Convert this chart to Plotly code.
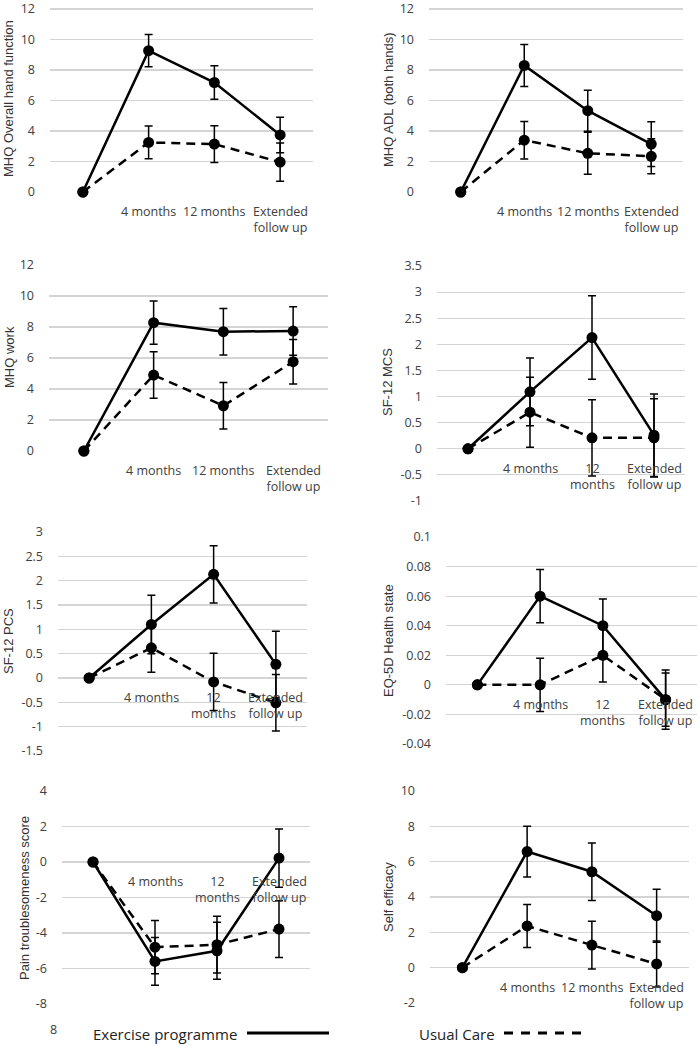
import plotly.graph_objects as go

W, H = 700, 1046
categories = ["Baseline", "4 months", "12 months", "Extended follow up"]
labels_wide = ["", "4 months", "12 months", "Extended<br>follow up"]
labels_narrow = ["", "4 months", "12<br>months", "Extended<br>follow up"]

# ---- data ----
p1_title = "MHQ Overall hand function"
p1_ex = [0, 9.27, 7.18, 3.74]
p1_ex_err = [0, 1.05, 1.1, 1.16]
p1_uc = [0, 3.25, 3.14, 1.96]
p1_uc_err = [0, 1.07, 1.2, 1.25]
p1_ticks = [0, 2, 4, 6, 8, 10, 12]

p2_title = "MHQ ADL (both hands)"
p2_ex = [0, 8.3, 5.33, 3.14]
p2_ex_err = [0, 1.38, 1.35, 1.46]
p2_uc = [0, 3.4, 2.54, 2.34]
p2_uc_err = [0, 1.23, 1.37, 1.15]
p2_ticks = [0, 2, 4, 6, 8, 10, 12]

p3_title = "MHQ work"
p3_ex = [0, 8.28, 7.7, 7.74]
p3_ex_err = [0, 1.4, 1.5, 1.57]
p3_uc = [0, 4.9, 2.92, 5.76]
p3_uc_err = [0, 1.5, 1.5, 1.43]
p3_ticks = [0, 2, 4, 6, 8, 10, 12]

p4_title = "SF-12 MCS"
p4_ex = [0, 1.09, 2.13, 0.26]
p4_ex_err = [0, 0.65, 0.8, 0.79]
p4_uc = [0, 0.7, 0.21, 0.21]
p4_uc_err = [0, 0.67, 0.73, 0.75]
p4_ticks = [-1, -0.5, 0, 0.5, 1, 1.5, 2, 2.5, 3, 3.5]

p5_title = "SF-12 PCS"
p5_ex = [0, 1.1, 2.13, 0.28]
p5_ex_err = [0, 0.6, 0.59, 0.68]
p5_uc = [0, 0.62, -0.08, -0.51]
p5_uc_err = [0, 0.5, 0.59, 0.58]
p5_ticks = [-1.5, -1, -0.5, 0, 0.5, 1, 1.5, 2, 2.5, 3]

p6_title = "EQ-5D Health state"
p6_ex = [0, 0.06, 0.04, -0.01]
p6_ex_err = [0, 0.018, 0.018, 0.02]
p6_uc = [0, 0, 0.02, -0.01]
p6_uc_err = [0, 0.018, 0.018, 0.018]
p6_ticks = [-0.04, -0.02, 0, 0.02, 0.04, 0.06, 0.08, 0.1]

p7_title = "Pain troublesomeness score"
p7_ex = [0, -5.6, -5.0, 0.22]
p7_ex_err = [0, 1.35, 1.6, 1.64]
p7_uc = [0, -4.8, -4.66, -3.78]
p7_uc_err = [0, 1.5, 1.6, 1.6]
p7_ticks = [-8, -6, -4, -2, 0, 2, 4]

p8_title = "Self efficacy"
p8_ex = [0, 6.57, 5.43, 2.94]
p8_ex_err = [0, 1.44, 1.63, 1.5]
p8_uc = [0, 2.36, 1.28, 0.21]
p8_uc_err = [0, 1.22, 1.35, 1.3]
p8_ticks = [-2, 0, 2, 4, 6, 8, 10]

legend_names = ["Exercise programme", "Usual Care"]

# ---- layout specs (pixels): px = plot x extent, py = pixel rows of top / bottom gridline ----
panels = [
    dict(title=p1_title, ex=p1_ex, exe=p1_ex_err, uc=p1_uc, uce=p1_uc_err, ticks=p1_ticks,
         xl=labels_wide, px=(50, 313), py=(9, 192), pad=9, tx=8, ty=99),
    dict(title=p2_title, ex=p2_ex, exe=p2_ex_err, uc=p2_uc, uce=p2_uc_err, ticks=p2_ticks,
         xl=labels_wide, px=(429, 683), py=(9, 192), pad=9, tx=388, ty=100),
    dict(title=p3_title, ex=p3_ex, exe=p3_ex_err, uc=p3_uc, uce=p3_uc_err, ticks=p3_ticks,
         xl=labels_wide, px=(49, 328), py=(265, 451), pad=0, tx=9, ty=357),
    dict(title=p4_title, ex=p4_ex, exe=p4_ex_err, uc=p4_uc, uce=p4_uc_err, ticks=p4_ticks,
         xl=labels_narrow, px=(437, 685), py=(266, 501), pad=0, tx=387, ty=382),
    dict(title=p5_title, ex=p5_ex, exe=p5_ex_err, uc=p5_uc, uce=p5_uc_err, ticks=p5_ticks,
         xl=labels_narrow, px=(58, 307), py=(532, 751), pad=0, tx=8, ty=641),
    dict(title=p6_title, ex=p6_ex, exe=p6_ex_err, uc=p6_uc, uce=p6_uc_err, ticks=p6_ticks,
         xl=labels_narrow, px=(446, 697), py=(537, 744), pad=0, tx=388, ty=641),
    dict(title=p7_title, ex=p7_ex, exe=p7_ex_err, uc=p7_uc, uce=p7_uc_err, ticks=p7_ticks,
         xl=labels_narrow, px=(62, 310), py=(791, 1004), pad=0, tx=24, ty=898),
    dict(title=p8_title, ex=p8_ex, exe=p8_ex_err, uc=p8_uc, uce=p8_uc_err, ticks=p8_ticks,
         xl=labels_wide, px=(430, 689), py=(791, 1003), pad=0, tx=388, ty=897),
]

TICK_FONT = dict(family="Open Sans, sans-serif", size=12.5, color="#404040")
TITLE_FONT = dict(family="Liberation Sans, Arial, sans-serif", size=13, color="#333333")
GRID = "#d4d4d4"


def fx(px):
    return px / W


def fy(py):
    return 1 - py / H


fig = go.Figure()
annotations = []
layout = {}

for i, p in enumerate(panels, start=1):
    xa = "x" if i == 1 else f"x{i}"
    ya = "y" if i == 1 else f"y{i}"
    for vals, errs, dash in [(p["uc"], p["uce"], "9px,6px"), (p["ex"], p["exe"], "solid")]:
        fig.add_trace(go.Scatter(
            x=categories, y=vals, xaxis=xa, yaxis=ya, mode="lines+markers",
            line=dict(color="black", width=2.5, dash=dash),
            marker=dict(color="black", size=11),
            error_y=dict(type="data", array=errs, visible=True, color="black",
                         thickness=1.5, width=4),
            cliponaxis=False, showlegend=False, hoverinfo="skip"))
    lo, hi = min(p["ticks"]), max(p["ticks"])
    top_px, bot_px = p["py"]
    units_per_px = (hi - lo) / (bot_px - top_px)
    hi_ext = hi + p["pad"] * units_per_px
    layout[f"xaxis{i}"] = dict(
        domain=[fx(p["px"][0]), fx(p["px"][1])], anchor=ya, type="category",
        categoryorder="array", categoryarray=categories, range=[-0.5, 3.5],
        showgrid=False, zeroline=False, showline=False, showticklabels=False, ticks="",
        automargin=False)
    layout[f"yaxis{i}"] = dict(
        domain=[fy(bot_px), fy(top_px - p["pad"])], anchor=xa, range=[lo, hi_ext],
        tickvals=p["ticks"], ticktext=[f"{v:g}" for v in p["ticks"]],
        showgrid=True, gridcolor=GRID, gridwidth=1.2, zeroline=False, showline=False,
        ticks="", tickfont=TICK_FONT, ticklabelstandoff=14, automargin=False,
        ticklabeloverflow="allow")
    for k, lab in enumerate(p["xl"]):
        if lab:
            annotations.append(dict(
                x=k, y=0, xref=xa, yref=ya, text=lab, showarrow=False,
                yanchor="top", xanchor="center", align="center", yshift=-9,
                font=TICK_FONT))
    annotations.append(dict(
        x=fx(p["tx"]), y=fy(p["ty"]), xref="paper", yref="paper", text=p["title"],
        textangle=-90, showarrow=False, xanchor="center", yanchor="middle",
        font=TITLE_FONT))

# stray label and legend
annotations.append(dict(x=fx(53), y=fy(1029), xref="paper", yref="paper", text="8",
                        showarrow=False, font=TICK_FONT, xanchor="center", yanchor="middle"))
LEG_FONT = dict(family="Open Sans, sans-serif", size=15, color="#222222")
annotations.append(dict(x=fx(91), y=fy(1034), xref="paper", yref="paper",
                        text=legend_names[0], showarrow=False, font=LEG_FONT,
                        xanchor="left", yanchor="middle"))
annotations.append(dict(x=fx(417), y=fy(1034), xref="paper", yref="paper",
                        text=legend_names[1], showarrow=False, font=LEG_FONT,
                        xanchor="left", yanchor="middle"))
shapes = [
    dict(type="line", xref="paper", yref="paper", x0=fx(247), x1=fx(329),
         y0=fy(1033), y1=fy(1033), line=dict(color="black", width=3)),
    dict(type="line", xref="paper", yref="paper", x0=fx(504), x1=fx(582),
         y0=fy(1033), y1=fy(1033), line=dict(color="black", width=3, dash="9px,8px")),
]

fig.update_layout(
    template="none",
    width=W, height=H, margin=dict(l=0, r=0, t=0, b=0, pad=0, autoexpand=False),
    paper_bgcolor="white", plot_bgcolor="white",
    font=dict(family="Open Sans, sans-serif", color="#404040"),
    annotations=annotations, shapes=shapes, **layout)

fig.write_html(
    "out.html",
    config={"displayModeBar": False, "staticPlot": True},
    post_script=(
        "document.documentElement.style.margin='0';"
        "document.body.style.margin='0';document.body.style.padding='0';"
        "document.body.style.overflow='hidden';"
        "var gd=document.getElementById('{plot_id}');"
        "gd.style.position='fixed';gd.style.top='0px';gd.style.left='0px';"
    ),
)
